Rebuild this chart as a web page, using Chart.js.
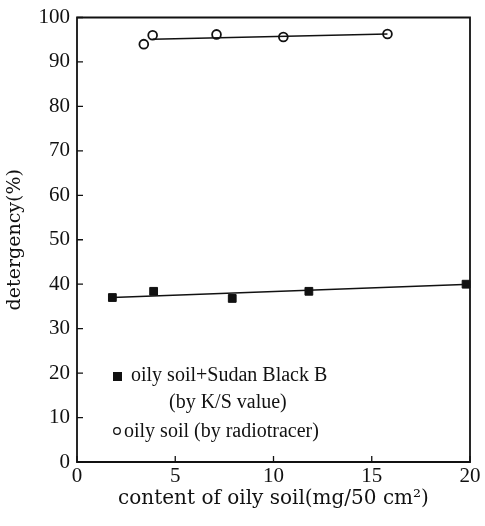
<!DOCTYPE html>
<html>
<head>
<meta charset="utf-8">
<script src="https://cdn.jsdelivr.net/npm/chart.js@4"></script>
<style>
  html, body { margin: 0; padding: 0; background: #fff; }
  #wrap { width: 485px; height: 526px; }
</style>
</head>
<body>
<div id="wrap"><canvas id="c" width="485" height="526"></canvas></div>
<script>
// values
const sudanX = [1.8, 3.9, 7.9, 11.8, 19.8];
const sudanY = [37.0, 38.4, 36.8, 38.4, 40.0];
const sudanFitX = [1.8, 20];
const sudanFitY = [37.0, 40.0];

const radioX = [3.4, 3.85, 7.1, 10.5, 15.8];
const radioY = [94.0, 96.0, 96.2, 95.6, 96.3];
const radioFitX = [3.85, 15.8];
const radioFitY = [95.1, 96.3];

const xTicks = [0, 5, 10, 15, 20];
const yTicks = [0, 10, 20, 30, 40, 50, 60, 70, 80, 90, 100];

const FONT = '"Liberation Serif", "DejaVu Serif", serif';
const WIDE = '"DejaVu Serif", "Liberation Serif", serif';

const pts = (xs, ys) => xs.map((x, i) => ({ x: x, y: ys[i] }));

// inward ticks, box frame and the in-plot key
const framePlugin = {
  id: 'frame',
  afterDraw(chart) {
    const ctx = chart.ctx;
    const a = chart.chartArea;
    const xs = chart.scales.x, ys = chart.scales.y;
    ctx.save();
    ctx.strokeStyle = '#111';
    ctx.lineWidth = 1.8;
    ctx.beginPath();
    ctx.moveTo(a.left, a.top); ctx.lineTo(a.right, a.top);
    ctx.lineTo(a.right, a.bottom); ctx.lineTo(a.left, a.bottom);
    ctx.closePath();
    ctx.stroke();
    ctx.lineWidth = 1.3;
    ctx.beginPath();
    yTicks.forEach(v => {
      const py = ys.getPixelForValue(v);
      ctx.moveTo(a.left, py); ctx.lineTo(a.left + 6, py);
    });
    xTicks.forEach(v => {
      const px = xs.getPixelForValue(v);
      ctx.moveTo(px, a.bottom); ctx.lineTo(px, a.bottom - 6);
    });
    ctx.stroke();

    // key
    ctx.fillStyle = '#111';
    ctx.font = '20px ' + FONT;
    ctx.textBaseline = 'middle';
    ctx.fillRect(113, 372, 9, 9);
    ctx.fillText('oily soil+Sudan Black B', 131, 376);
    ctx.fillText('(by K/S value)', 169, 403);
    ctx.beginPath();
    ctx.lineWidth = 1.3;
    ctx.arc(117, 431, 3.3, 0, Math.PI * 2);
    ctx.stroke();
    ctx.fillText('oily soil (by radiotracer)', 124, 432);
    ctx.restore();
  }
};

new Chart(document.getElementById('c'), {
  type: 'scatter',
  data: {
    datasets: [
      {
        label: 'sudan fit', data: pts(sudanFitX, sudanFitY), showLine: true,
        borderColor: '#111', borderWidth: 1.6, pointRadius: 0
      },
      {
        label: 'radio fit', data: pts(radioFitX, radioFitY), showLine: true,
        borderColor: '#111', borderWidth: 1.6, pointRadius: 0
      },
      {
        label: 'oily soil+Sudan Black B (by K/S value)', data: pts(sudanX, sudanY),
        pointStyle: 'rect', pointRadius: 5.5, backgroundColor: '#111', borderColor: '#111', borderWidth: 1
      },
      {
        label: 'oily soil (by radiotracer)', data: pts(radioX, radioY),
        pointStyle: 'circle', pointRadius: 4.4, backgroundColor: '#fff', borderColor: '#111', borderWidth: 1.8
      }
    ]
  },
  options: {
    responsive: false,
    animation: false,
    clip: false,
    layout: { padding: { top: 15, right: 15, left: 0, bottom: 11 } },
    plugins: { legend: { display: false }, tooltip: { enabled: false } },
    scales: {
      x: {
        type: 'linear', min: 0, max: 20,
        afterBuildTicks: s => { s.ticks = xTicks.map(v => ({ value: v })); },
        afterFit: s => { s.height = 53; },
        grid: { display: false, drawTicks: false },
        border: { display: false },
        ticks: { color: '#111', font: { family: FONT, size: 21, lineHeight: 1 }, padding: 4 },
        title: {
          display: true, text: 'content of oily soil(mg/50 cm²)',
          color: '#111', font: { family: WIDE, size: 20 }, padding: { top: 0 }
        }
      },
      y: {
        type: 'linear', min: 0, max: 100,
        afterBuildTicks: s => { s.ticks = yTicks.map(v => ({ value: v })); },
        afterFit: s => { s.width = 77; },
        grid: { display: false, drawTicks: false },
        border: { display: false },
        ticks: { color: '#111', font: { family: FONT, size: 21, lineHeight: 1 }, padding: 7 },
        title: {
          display: true, text: 'detergency(%)',
          color: '#111', font: { family: WIDE, size: 19 }, padding: { bottom: 2 }
        }
      }
    }
  },
  plugins: [framePlugin]
});
</script>
</body>
</html>
